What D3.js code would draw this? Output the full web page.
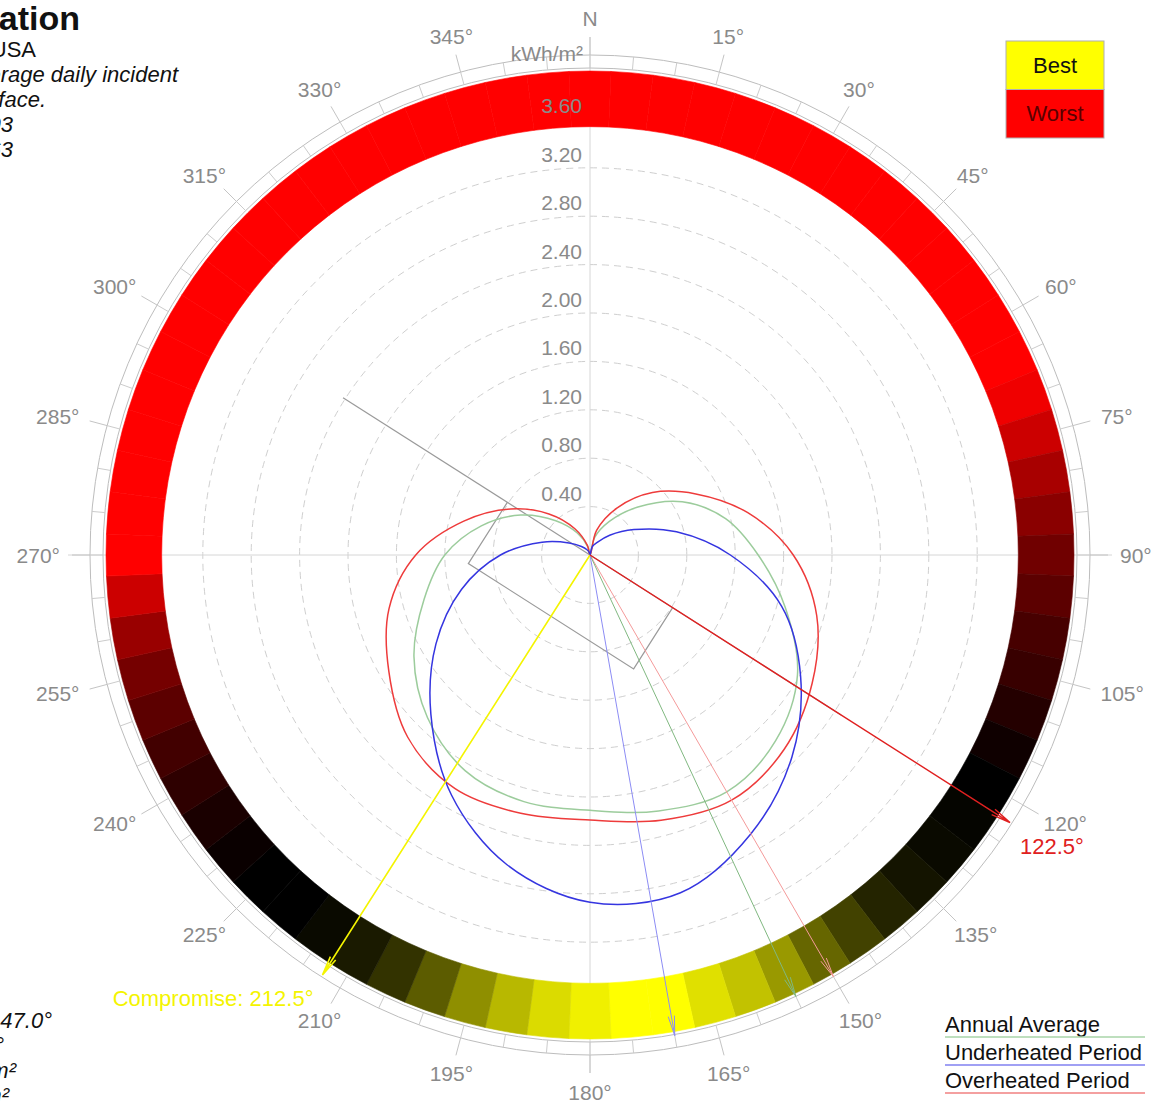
<!DOCTYPE html>
<html>
<head>
<meta charset="utf-8">
<script src="https://cdn.jsdelivr.net/npm/d3@7"></script>
<style>
  body { margin: 0; background: #fff; overflow: hidden; }
  svg { font-family: "Liberation Sans", Arial, sans-serif; }
</style>
</head>
<body>
<div id="container"></div>
<script>
//Chart data
const curveAngles = [0, 15, 30, 45, 60, 75, 90, 105, 120, 135, 150, 165, 180, 195, 210, 225, 240, 255, 270, 285, 300, 315, 330, 345];
const annualAverage = [0, 0.15, 0.32, 0.56, 0.88, 1.16, 1.39, 1.67, 1.98, 2.17, 2.26, 2.19, 2.11, 2.11, 2.06, 1.90, 1.68, 1.42, 1.20, 0.93, 0.66, 0.40, 0.21, 0.07];
const underheated = [0, 0.07, 0.12, 0.23, 0.42, 0.74, 1.16, 1.64, 2.01, 2.36, 2.66, 2.89, 2.87, 2.65, 2.29, 1.86, 1.47, 1.10, 0.74, 0.41, 0.20, 0.10, 0.05, 0.02];
const overheated = [0, 0.21, 0.45, 0.73, 1.01, 1.35, 1.68, 1.94, 2.12, 2.27, 2.34, 2.27, 2.19, 2.21, 2.23, 2.13, 1.92, 1.72, 1.44, 1.08, 0.76, 0.48, 0.25, 0.08];

//Orientation rating ring (0 = best, 1 = worst)
const ringAngles = [0, 5, 10, 15, 20, 25, 30, 35, 40, 45, 50, 55, 60, 65, 70, 75, 80, 85, 90, 95, 100, 105, 110, 115,
  120, 125, 130, 135, 140, 145, 150, 155, 160, 165, 170, 175, 180, 185, 190, 195, 200, 205, 210, 215, 220, 225, 230, 235,
  240, 245, 250, 255, 260, 265, 270, 275, 280, 285, 290, 295, 300, 305, 310, 315, 320, 325, 330, 335, 340, 345, 350, 355];
const ringRating = [1, 1, 1, 1, 1, 1, 1, 1, 1, 1, 1, 1, 1, 1, 0.97, 0.9, 0.83, 0.77, 0.72, 0.68, 0.64, 0.61, 0.57, 0.53,
  0.5, 0.49, 0.48, 0.46, 0.43, 0.37, 0.3, 0.2, 0.12, 0.06, 0.0, 0.0, 0.03, 0.07, 0.14, 0.22, 0.32, 0.4, 0.45, 0.48, 0.5, 0.5, 0.52, 0.55,
  0.59, 0.63, 0.68, 0.73, 0.8, 0.9, 1, 1, 1, 1, 1, 1, 1, 1, 1, 1, 1, 1, 1, 1, 1, 1, 1, 1];

//Radial axis and compass ticks
const radiusTicks = [0.4, 0.8, 1.2, 1.6, 2.0, 2.4, 2.8, 3.2, 3.6];
const minorTicks = ringAngles;
const degreeTicks = [0, 15, 30, 45, 60, 75, 90, 105, 120, 135, 150, 165, 180, 195, 210, 225, 240, 255, 270, 285, 300, 315, 330, 345];
const degreeLabels = ["N", "15°", "30°", "45°", "60°", "75°", "90°", "105°", "120°", "135°", "150°", "165°", "180°", "195°", "210°", "225°", "240°", "255°", "270°", "285°", "300°", "315°", "330°", "345°"];

//Optimum direction arrows
const arrowAngles = [150, 155, 170, 212.5, 122.5];
const arrowColors = ["#f49a9a", "#80b880", "#8c8cf4", "#f4f400", "#e02020"];
const arrowWidths = [1, 1, 1, 1.6, 1.4];
const arrowReach = [3, 3, 4, 14, 14];
const arrowLabels = ["", "", "", "Compromise: 212.5°", "122.5°"];

//Building outline (kWh/m² units along its axis)
const buildingAxis = 122.5;
const buildingLength = [-0.81, 0.81];
const buildingDepth = [0, 0.6];
const buildingAxisLine = [-2.42, 2.46];

//Side texts
const titleLines = ["Optimum Orientation", "Location: Phoenix, USA", "Orientation based on average daily incident", "radiation on a vertical surface.", "Underheated Stress: 2403", "Overheated Stress: 1863"];
const titleEnds = [80, 36, 178, 46, 13, 13];
const footLines = ["Best: 147.0°", "Worst: 327.0°", "Average: 2.19 kWh/m²", "Total: 800.4 kWh/m²"];
const footEnds = [52, 4, 16, 9];

//Create dimensions
const width = 1160;
const height = 1105;
const cx = 590;
const cy = 555;
const R = 484;

const svg = d3.select("#container")
  .append("svg")
  .attr("width", width)
  .attr("height", height);

const r = d3.scaleLinear().domain([0, 4]).range([0, R]);
const rad = d => d * Math.PI / 180;
const pt = (a, px) => [px * Math.sin(rad(a)), -px * Math.cos(rad(a))];
const color = d3.scaleLinear().domain([0, 0.5, 1]).range(["#ffff00", "#000000", "#ff0000"]);

const g = svg.append("g").attr("transform", `translate(${cx},${cy})`);

//Dashed radial grid
g.selectAll("circle.grid")
  .data(radiusTicks)
  .join("circle")
  .attr("class", "grid")
  .attr("r", d => r(d))
  .attr("fill", "none")
  .attr("stroke", "#cfcfcf")
  .attr("stroke-dasharray", "7,5");

//Cross hair
g.append("line").attr("x1", 0).attr("x2", 0).attr("y1", -518).attr("y2", 518).attr("stroke", "#d6d6d6");
g.append("line").attr("x1", -522).attr("x2", 522).attr("y1", 0).attr("y2", 0).attr("stroke", "#d6d6d6");

//Outer compass circles
g.selectAll("circle.outer")
  .data([R + 3, R + 16])
  .join("circle")
  .attr("class", "outer")
  .attr("r", d => d)
  .attr("fill", "none")
  .attr("stroke", "#bdbdbd");

g.selectAll("line.minor")
  .data(minorTicks)
  .join("line")
  .attr("class", "minor")
  .attr("x1", d => pt(d, R + 3)[0]).attr("y1", d => pt(d, R + 3)[1])
  .attr("x2", d => pt(d, R + 16)[0]).attr("y2", d => pt(d, R + 16)[1])
  .attr("stroke", "#cccccc");

g.selectAll("line.major")
  .data(degreeTicks)
  .join("line")
  .attr("class", "major")
  .attr("x1", d => pt(d, R + 16)[0]).attr("y1", d => pt(d, R + 16)[1])
  .attr("x2", d => pt(d, R + 34)[0]).attr("y2", d => pt(d, R + 34)[1])
  .attr("stroke", "#c4c4c4");

//Degree labels, pushed out by half their width on the sides
const degText = g.selectAll("text.deg")
  .data(degreeTicks)
  .join("text")
  .attr("class", "deg")
  .attr("text-anchor", "middle")
  .attr("dominant-baseline", "central")
  .attr("fill", "#8a8a8a")
  .style("font-size", "21px")
  .text((d, i) => degreeLabels[i]);
degText.each(function (d) {
  const hw = this.getComputedTextLength() / 2;
  const s = Math.sin(rad(d));
  d3.select(this)
    .attr("x", 530 * s + hw * s * Math.abs(s))
    .attr("y", pt(d, 537)[1]);
});

//Rating ring
const arc = d3.arc().innerRadius(r(3.54)).outerRadius(r(4));
g.selectAll("path.seg")
  .data(ringAngles)
  .join("path")
  .attr("class", "seg")
  .attr("d", d => arc({ startAngle: rad(d - 2.5), endAngle: rad(d + 2.5) }))
  .attr("fill", (d, i) => color(ringRating[i]))
  .attr("stroke", (d, i) => color(ringRating[i]))
  .attr("stroke-width", 0.6);

//Radius labels
g.selectAll("text.rlab")
  .data(radiusTicks)
  .join("text")
  .attr("class", "rlab")
  .attr("x", -8)
  .attr("y", d => -r(d) - 6)
  .attr("text-anchor", "end")
  .attr("fill", "#8a8a8a")
  .style("font-size", "21px")
  .text(d => d.toFixed(2));

g.append("text")
  .attr("x", -7)
  .attr("y", -R - 10)
  .attr("text-anchor", "end")
  .attr("fill", "#8a8a8a")
  .style("font-size", "21px")
  .text("kWh/m²");

//Building outline
const bpt = (u, v) => {
  const a = pt(buildingAxis, r(u));
  const b = pt(buildingAxis + 90, r(v));
  return [a[0] + b[0], a[1] + b[1]];
};
g.append("line")
  .attr("x1", bpt(buildingAxisLine[0], 0)[0]).attr("y1", bpt(buildingAxisLine[0], 0)[1])
  .attr("x2", bpt(buildingAxisLine[1], 0)[0]).attr("y2", bpt(buildingAxisLine[1], 0)[1])
  .attr("stroke", "#9a9a9a")
  .attr("stroke-width", 1.2);
g.append("path")
  .attr("d", d3.line()([
    bpt(buildingLength[0], buildingDepth[0]), bpt(buildingLength[0], buildingDepth[1]),
    bpt(buildingLength[1], buildingDepth[1]), bpt(buildingLength[1], buildingDepth[0])]))
  .attr("fill", "none")
  .attr("stroke", "#9a9a9a")
  .attr("stroke-width", 1.2);

//Radiation curves
const radial = d3.lineRadial()
  .angle(d => rad(d[0]))
  .radius(d => r(d[1]))
  .curve(d3.curveCatmullRomClosed.alpha(0.5));
const series = [
  { values: annualAverage, color: "#9ccc9c" },
  { values: overheated, color: "#ee3b3b" },
  { values: underheated, color: "#3535e0" }
];
g.selectAll("path.curve")
  .data(series)
  .join("path")
  .attr("class", "curve")
  .attr("d", s => radial(curveAngles.map((a, i) => [a, s.values[i]])))
  .attr("fill", "none")
  .attr("stroke", s => s.color)
  .attr("stroke-width", 1.5);

//Arrows
arrowAngles.forEach((a, i) => {
  const tip = pt(a, R + arrowReach[i]);
  const arm = 20;
  const b1 = [tip[0] - pt(a - 9, arm)[0], tip[1] - pt(a - 9, arm)[1]];
  const b2 = [tip[0] - pt(a + 9, arm)[0], tip[1] - pt(a + 9, arm)[1]];
  g.append("path")
    .attr("d", `M0,0L${tip}M${b1}L${tip}L${b2}`)
    .attr("fill", "none")
    .attr("stroke", arrowColors[i])
    .attr("stroke-width", arrowWidths[i]);
  if (arrowLabels[i]) {
    const right = Math.sin(rad(a)) > 0;
    g.append("text")
      .attr("x", tip[0] + (right ? 10 : -9))
      .attr("y", tip[1] + 31)
      .attr("text-anchor", right ? "start" : "end")
      .attr("fill", arrowColors[i])
      .style("font-size", "22px")
      .text(arrowLabels[i]);
  }
});

//Best / Worst box
const box = svg.append("g").attr("transform", "translate(1006,41)");
box.selectAll("rect")
  .data(["Best", "Worst"])
  .join("rect")
  .attr("y", (d, i) => i * 48.5)
  .attr("width", 98)
  .attr("height", 48.5)
  .attr("fill", (d, i) => color(i))
  .attr("stroke", "#b0b0b0");
box.selectAll("text")
  .data(["Best", "Worst"])
  .join("text")
  .attr("x", 49)
  .attr("y", (d, i) => i * 48.5 + 24)
  .attr("text-anchor", "middle")
  .attr("dominant-baseline", "central")
  .attr("fill", (d, i) => i ? "#5a0000" : "#111")
  .style("font-size", "22px")
  .text(d => d);

//Line legend
const legendItems = ["Annual Average", "Underheated Period", "Overheated Period"];
const legendColors = ["#a8d4a8", "#8080f0", "#f08080"];
const legend = svg.append("g").attr("transform", "translate(945,1032)");
legend.selectAll("text")
  .data(legendItems)
  .join("text")
  .attr("y", (d, i) => i * 28)
  .attr("fill", "#111")
  .style("font-size", "22px")
  .text(d => d);
legend.selectAll("line")
  .data(legendItems)
  .join("line")
  .attr("x1", 0).attr("x2", 200)
  .attr("y1", (d, i) => i * 28 + 5).attr("y2", (d, i) => i * 28 + 5)
  .attr("stroke", (d, i) => legendColors[i])
  .attr("stroke-width", 1.5);

//Title block (clipped at left edge)
svg.selectAll("text.title")
  .data(titleLines)
  .join("text")
  .attr("class", "title")
  .attr("x", (d, i) => titleEnds[i])
  .attr("y", (d, i) => i === 0 ? 30 : 32 + i * 25)
  .attr("text-anchor", "end")
  .attr("fill", "#111")
  .style("font-size", (d, i) => i === 0 ? "34px" : "22px")
  .style("font-weight", (d, i) => i === 0 ? "bold" : "normal")
  .style("font-style", (d, i) => i >= 2 ? "italic" : "normal")
  .text(d => d);

svg.selectAll("text.foot")
  .data(footLines)
  .join("text")
  .attr("class", "foot")
  .attr("x", (d, i) => footEnds[i])
  .attr("y", (d, i) => 1028 + i * 25)
  .attr("text-anchor", "end")
  .attr("fill", "#111")
  .style("font-size", "22px")
  .style("font-style", "italic")
  .text(d => d);
</script>
</body>
</html>
